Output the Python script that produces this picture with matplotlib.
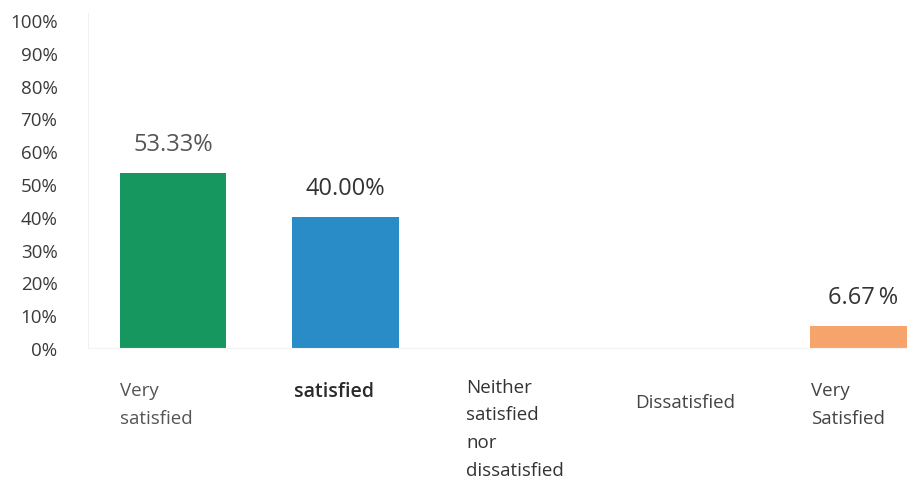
import matplotlib
matplotlib.use("Agg")
import matplotlib.pyplot as plt

plt.rcParams['font.family'] = ['Open Sans', 'DejaVu Sans']

categories = ["Very\nsatisfied", "satisfied", "Neither\nsatisfied\nnor\ndissatisfied",
              "Dissatisfied", "Very\nSatisfied"]
values = [53.33, 40.00, 0.0, 0.0, 6.67]
value_labels = ["53.33%", "40.00%", "", "", "6.67\u2009%"]
bar_colors = ["#15975F", "#2A8CC6", "#F4A26C", "#F4A26C", "#F6A46B"]
yticks = [0, 10, 20, 30, 40, 50, 60, 70, 80, 90, 100]
ytick_labels = [f"{t}%" for t in yticks]

fig = plt.figure(figsize=(9.07, 4.81), dpi=100)
ax = fig.add_axes([88 / 907, (481 - 349) / 481, 1 - 88 / 907, (349 - 21) / 481])

x = list(range(len(categories)))
ax.bar(x, values, width=0.615, color=bar_colors, zorder=2)

ax.set_xlim(-0.4928, 4.255)
ax.set_ylim(0, 100)
ax.set_yticks(yticks)
ax.set_yticklabels(ytick_labels, fontsize=13.5, color="#3a3a3a")
ax.tick_params(axis="y", length=0, pad=22)
ax.set_xticks([])

for side in ["top", "right"]:
    ax.spines[side].set_visible(False)
ax.spines["left"].set_color("#f0f0f0")
ax.spines["left"].set_bounds(0, 102)
ax.spines["bottom"].set_color("#f2f2f2")
ax.spines["left"].set_clip_on(False)

# value labels above bars
label_colors = ["#555555", "#333333", "#333333", "#333333", "#333333"]
for xi, v, lab, c in zip(x, values, value_labels, label_colors):
    if lab:
        ax.annotate(lab, (xi, v), xytext=(0, 12), textcoords="offset points",
                    ha="center", va="bottom", fontsize=17, color=c)

# category labels below the axis
cat_offsets = [-0.31, -0.30, -0.30, -0.32, -0.30]
cat_va = ["top", "top", "top", "center", "top"]
cat_y = [-10.0, -10.0, -9.0, -16.5, -10.0]
cat_colors = ["#555555", "#2a2a2a", "#333333", "#444444", "#444444"]
cat_weights = ["normal", "semibold", "normal", "normal", "normal"]
cat_sizes = [13.5, 14, 13.5, 13.5, 13.5]
for xi, name, off, va, yy, c, w, s in zip(x, categories, cat_offsets, cat_va, cat_y,
                                         cat_colors, cat_weights, cat_sizes):
    ax.text(xi + off, yy, name, ha="left", va=va, fontsize=s, color=c,
            linespacing=1.7, fontweight=w, clip_on=False)

fig.savefig("out.png", dpi=100)
